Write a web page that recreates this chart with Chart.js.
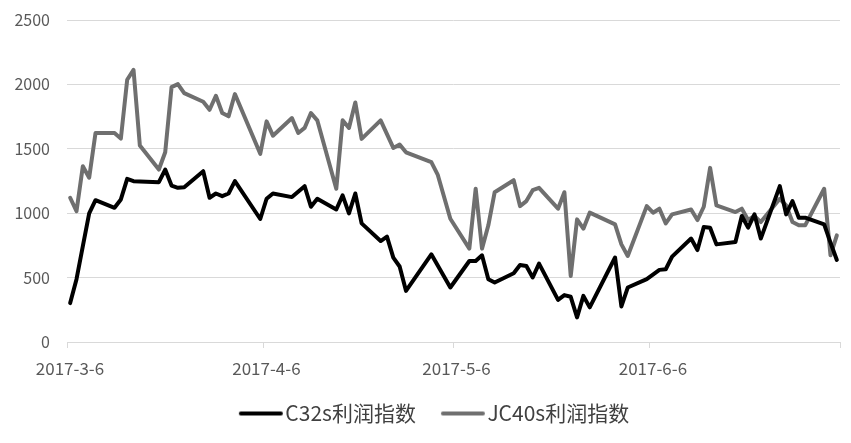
<!DOCTYPE html>
<html>
<head>
<meta charset="utf-8">
<script src="https://cdn.jsdelivr.net/npm/chart.js@4.4.1/dist/chart.umd.min.js"></script>
<style>
html,body{margin:0;padding:0;background:#fff;}
#wrap{width:851px;height:443px;position:relative;}
</style>
</head>
<body>
<div id="wrap"><canvas id="c" width="851" height="443"></canvas></div>
<script>
// Dates (2017, month-day) shared by both series
const dates = ['3-6','3-7','3-8','3-9','3-10','3-13','3-14','3-15','3-16','3-17','3-20','3-21','3-22','3-23','3-24',
 '3-27','3-28','3-29','3-30','3-31','4-1','4-5','4-6','4-7','4-10','4-11','4-12','4-13','4-14','4-17','4-18','4-19','4-20','4-21',
 '4-24','4-25','4-26','4-27','4-28','5-2','5-3','5-5','5-8','5-9','5-10','5-11','5-12','5-15','5-16','5-17','5-18','5-19',
 '5-22','5-23','5-24','5-25','5-26','5-27','5-31','6-1','6-2','6-5','6-6','6-7','6-8','6-9','6-12','6-13','6-14','6-15','6-16',
 '6-19','6-20','6-21','6-22','6-23','6-26','6-27','6-28','6-29','6-30','7-3','7-4','7-5'];

const c32s = [302,488,745,998,1101,1042,1107,1267,1249,null,1241,1339,1215,1197,1202,
 1326,1120,1153,1132,1153,1249,955,1112,1153,1125,null,1210,1050,1112,1029,1138,998,1153,921,
 784,818,655,586,397,681,null,423,629,629,673,488,462,534,598,590,501,609,
 327,364,351,191,358,269,656,276,423,488,null,560,565,663,803,714,892,887,758,
 776,978,888,991,803,1210,991,1094,965,965,913,772,637];

const jc40s = [1120,1016,1365,1275,1623,1623,1579,2036,2113,1525,1339,1473,1979,2002,1932,
 1865,1803,1912,1778,1752,1925,1461,1713,1602,1739,1623,1662,1778,1721,1190,1721,1662,1860,1577,
 1721,null,1507,1533,1473,1396,1300,957,725,1190,725,906,1163,1256,1055,1094,1179,1197,
 1035,1163,513,952,880,1004,913,758,668,1055,1004,1035,921,991,1029,947,1050,1352,1060,
 1009,1035,947,978,931,1112,1060,931,906,906,1190,673,828];

const seriesNames = ['C32s利润指数','JC40s利润指数'];
const xTickDays = [0,31,61,92,122];
const xTickLabels = ['2017-3-6','2017-4-6','2017-5-6','2017-6-6',''];
const yTicks = [0,500,1000,1500,2000,2500];

function dayOffset(md){
  const [m,d] = md.split('-').map(Number);
  return (Date.UTC(2017,m-1,d) - Date.UTC(2017,2,6)) / 86400000;
}
function toPoints(vals){
  return dates.map((d,i)=>({x: dayOffset(d)+0.5, y: vals[i]}));
}

// legend marker: short thick line, drawn as a small canvas image
function legendLine(color){
  const cv = document.createElement('canvas');
  cv.width = 56; cv.height = 6;
  const g = cv.getContext('2d');
  g.strokeStyle = color; g.lineWidth = 4; g.lineCap = 'round';
  g.beginPath(); g.moveTo(12, 3); g.lineTo(52, 3); g.stroke();
  return cv;
}

const FONT = '"Noto Sans CJK SC","Noto Sans",sans-serif';

const chart = new Chart(document.getElementById('c'), {
  type: 'line',
  data: {
    datasets: [
      {label: seriesNames[0], data: toPoints(c32s), borderColor:'#000000', backgroundColor:'#000000',
       borderWidth:4, pointRadius:0, tension:0, spanGaps:true, borderJoinStyle:'round', borderCapStyle:'round',
       pointStyle: legendLine('#000000')},
      {label: seriesNames[1], data: toPoints(jc40s), borderColor:'#6f6f6f', backgroundColor:'#6f6f6f',
       borderWidth:4, pointRadius:0, tension:0, spanGaps:true, borderJoinStyle:'round', borderCapStyle:'round',
       pointStyle: legendLine('#6f6f6f')}
    ]
  },
  options: {
    responsive:false,
    animation:false,
    layout:{padding:{top:20,right:11,left:0,bottom:9}},
    plugins:{
      legend:{
        position:'bottom',
        labels:{
          usePointStyle:true, pointStyleWidth:36,
          color:'#404040', font:{family:FONT,size:21}, padding:25
        }
      },
      tooltip:{enabled:false}
    },
    scales:{
      x:{
        type:'linear', min:0, max:122,
        afterBuildTicks:(axis)=>{ axis.ticks = xTickDays.map(v=>({value:v})); },
        afterFit:(s)=>{ s.height = 36; },
        ticks:{
          callback:(v)=>{ const i = xTickDays.indexOf(v); return i>=0 ? xTickLabels[i] : ''; },
          color:'#595959', font:{family:FONT,size:17}, labelOffset:3, padding:10, maxRotation:0, autoSkip:false
        },
        grid:{drawOnChartArea:false, drawTicks:true, tickLength:6, color:'#d9d9d9', lineWidth:1},
        border:{display:true, color:'#d9d9d9', width:1}
      },
      y:{
        min:0, max:2500,
        afterBuildTicks:(axis)=>{ axis.ticks = yTicks.map(v=>({value:v})); },
        afterFit:(s)=>{ s.width = 67; },
        ticks:{color:'#595959', font:{family:FONT,size:16}, padding:2, callback:(v)=>String(v)},
        grid:{color:'#d9d9d9', lineWidth:1, drawTicks:true, tickLength:15, tickColor:'rgba(0,0,0,0)'},
        border:{display:false}
      }
    }
  }
});

// shift the legend to the right so it is centred as in the reference
const lg = chart.legend;
const origDraw = lg.draw.bind(lg);
lg.draw = function(){
  const ctx = this.ctx;
  ctx.save(); ctx.translate(14, 0); origDraw(); ctx.restore();
};
chart.draw();
</script>
</body>
</html>
